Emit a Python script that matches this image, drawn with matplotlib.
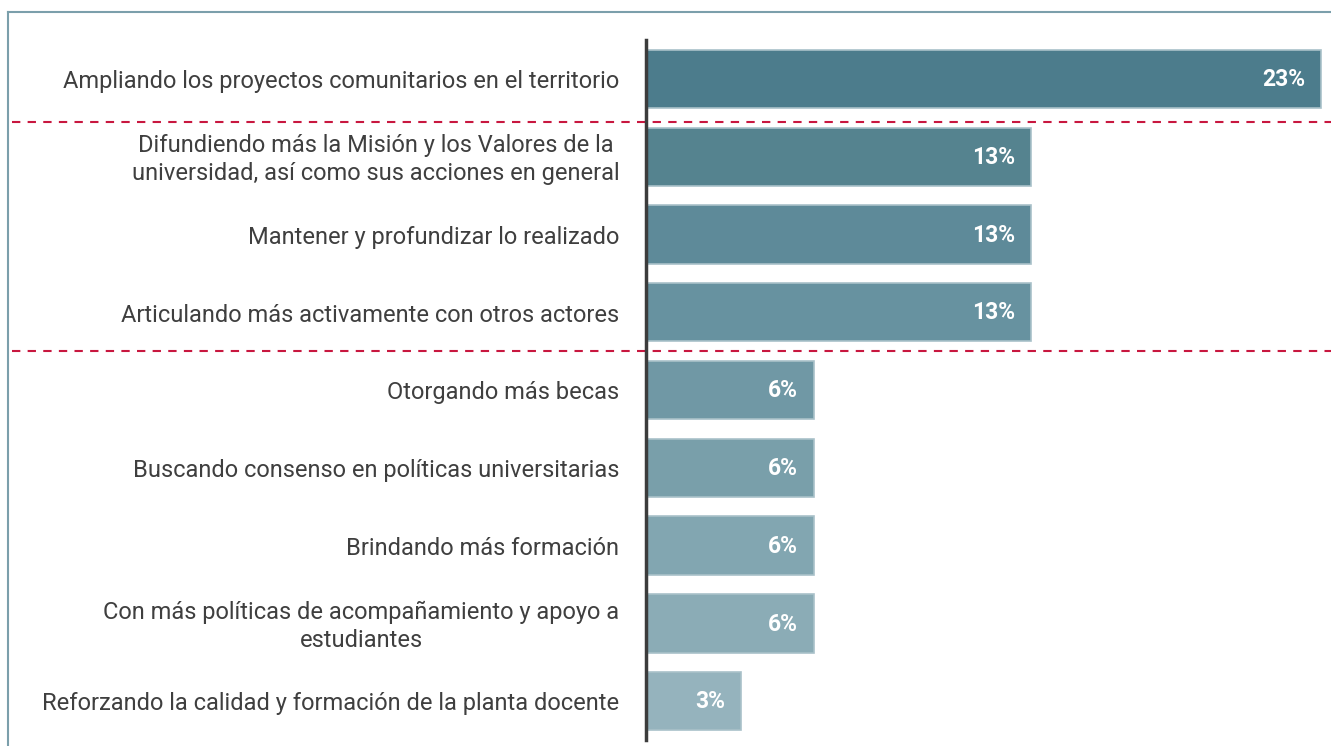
import matplotlib.pyplot as plt
from matplotlib.lines import Line2D
from matplotlib.transforms import blended_transform_factory

plt.rcParams['font.family'] = ['Roboto', 'DejaVu Sans']

# Respuestas y porcentajes
categorias = [
    "Ampliando los proyectos comunitarios en el territorio",
    "Difundiendo más la Misión y los Valores de la\nuniversidad, así como sus acciones en general",
    "Mantener y profundizar lo realizado",
    "Articulando más activamente con otros actores",
    "Otorgando más becas",
    "Buscando consenso en políticas universitarias",
    "Brindando más formación",
    "Con más políticas de acompañamiento y apoyo a\nestudiantes",
    "Reforzando la calidad y formación de la planta docente",
]
porcentajes = [23.0, 13.1, 13.1, 13.1, 5.7, 5.7, 5.7, 5.7, 3.2]
colores = ["#4c7c8c", "#55838f", "#5e8a99", "#6792a0", "#7098a5",
           "#799faa", "#82a6b1", "#8bacb6", "#95b3bd"]
separadores = [0.55, 3.5]

W, H = 1331, 746
fig = plt.figure(figsize=(W / 100, H / 100), dpi=100)
ax = fig.add_axes([647 / W, 1 - 740 / H, (W - 647) / W, 700 / H])

y = list(range(len(categorias)))
ax.barh(y, porcentajes, height=0.75, color=colores, edgecolor="#a9c1c9", linewidth=1.2)
ax.set_ylim(len(categorias) - 0.5, -0.5)
ax.set_xlim(0, (W - 647) / 29.3)

for yi, v in zip(y, porcentajes):
    ax.annotate(f"{v:.0f}%", xy=(v, yi), xytext=(-11.5, -0.5), textcoords="offset points",
                ha="right", va="center", color="white", fontsize=16.5, fontweight="bold")

# etiquetas de categoría (las de dos líneas van centradas entre sí)
for yi, cat in zip(y, categorias):
    ax.annotate(cat, xy=(0, yi), xytext=(-20, -2), textcoords="offset points",
                ha="right", va="center", multialignment="center", linespacing=1.3,
                fontsize=17, color="#3f3f3f", annotation_clip=False)

ax.set_xticks([])
ax.set_yticks([])
for s in ["top", "right", "bottom"]:
    ax.spines[s].set_visible(False)
ax.spines["left"].set_color("#3c3c3c")
ax.spines["left"].set_linewidth(2.5)
ax.spines["left"].set_position(("outward", 1))

# líneas punteadas entre grupos
tr = blended_transform_factory(fig.transFigure, ax.transData)
for ys in separadores:
    ax.add_line(Line2D([12 / W, 1.0], [ys, ys], transform=tr, color="#c8173f",
                       linestyle=(0, (4, 3.5)), linewidth=1.5, clip_on=False))

# marco
fig.add_artist(Line2D([8 / W, 8 / W], [0, 1 - 12 / H], color="#7b9fab", linewidth=1.5))
fig.add_artist(Line2D([8 / W, 1], [1 - 12 / H, 1 - 12 / H], color="#7b9fab", linewidth=1.5))

fig.savefig("out.png", dpi=100)
